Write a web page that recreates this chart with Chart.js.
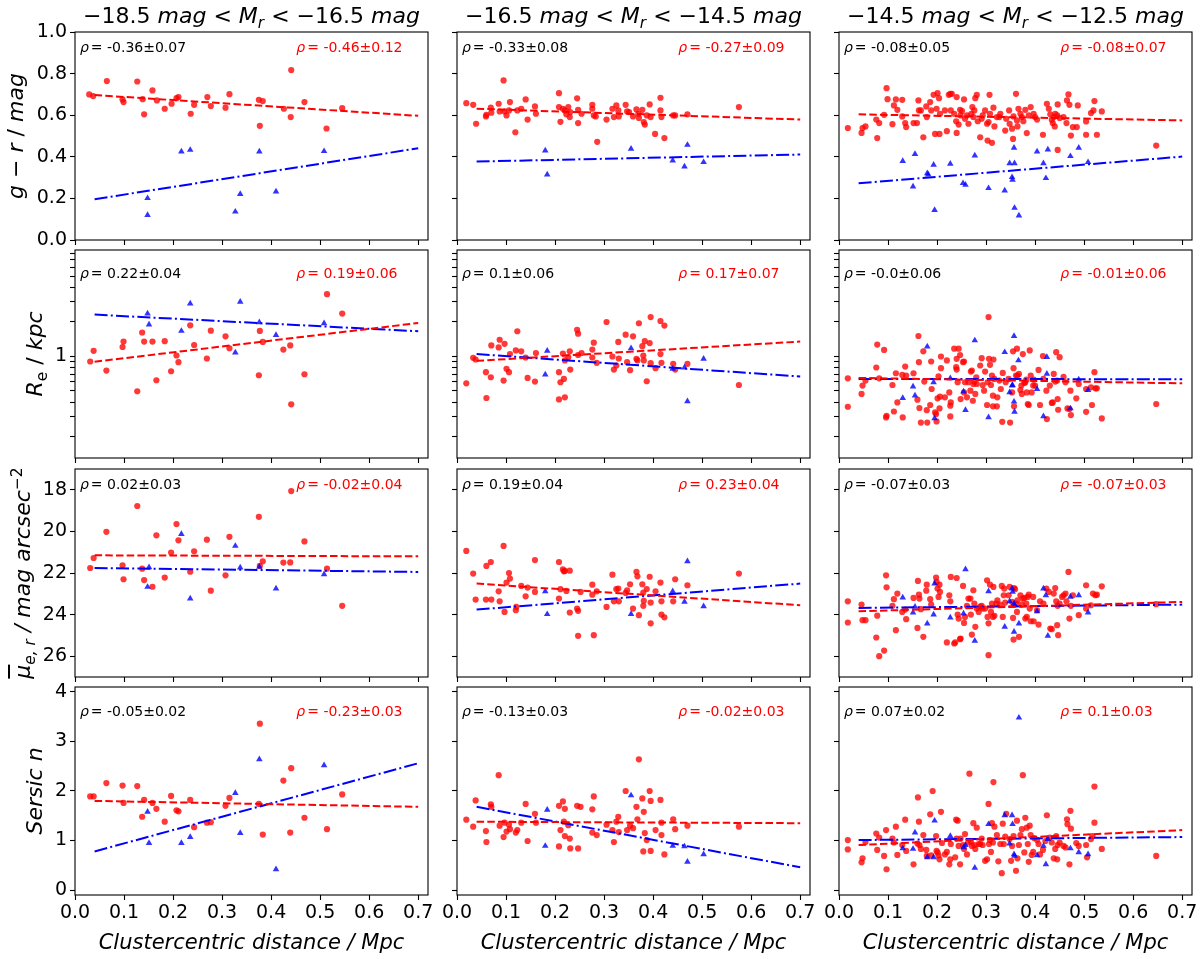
<!DOCTYPE html>
<html>
<head>
<meta charset="utf-8">
<script src="https://cdn.jsdelivr.net/npm/chart.js@4.4.1/dist/chart.umd.min.js"></script>
<style>
  body { margin: 0; background: #fff; }
  #fig { position: relative; width: 1200px; height: 959px; overflow: hidden; background: #fff;
         font-family: "DejaVu Sans", sans-serif; color: #000; }
  .panel { position: absolute; }
  .title { position: absolute; top: 3px; width: 393px; text-align: center; font-size: 22px; line-height: 26px; white-space: nowrap; }
  .xlabel { position: absolute; top: 930px; width: 393px; text-align: center; font-size: 21px; line-height: 25px; font-style: italic; white-space: nowrap; }
  .ylabel { position: absolute; width: 300px; height: 26px; text-align: center; font-size: 22px; line-height: 26px;
            white-space: nowrap; transform: rotate(-90deg); }
  sub { font-size: 0.7em; vertical-align: -0.3em; line-height: 0; }
  sup { font-size: 0.7em; vertical-align: 0.55em; line-height: 0; }
  .ovl { text-decoration: overline; }
</style>
</head>
<body>
<div id="fig"></div>
<script>
// tick values and categories
const magBins = ['−18.5', '−16.5', '−14.5', '−12.5'];
const distTicks = [0, 0.1, 0.2, 0.3, 0.4, 0.5, 0.6, 0.7];
const grTicks = [0, 0.2, 0.4, 0.6, 0.8, 1.0];
const reTicks = [0.2, 0.3, 0.4, 0.5, 0.6, 0.7, 0.8, 0.9, 1, 2, 3, 4, 5, 6, 7, 8];
const muTicks = [18, 20, 22, 24, 26];
const nTicks = [0, 1, 2, 3, 4];
const fitX = [0.04, 0.7];

// correlation labels, row by row (all galaxies / red ones)
const rhoAll = ['-0.36±0.07', '-0.33±0.08', '-0.08±0.05',
                '0.22±0.04', '0.1±0.06', '-0.0±0.06',
                '0.02±0.03', '0.19±0.04', '-0.07±0.03',
                '-0.05±0.02', '-0.13±0.03', '0.07±0.02'];
const rhoRed = ['-0.46±0.12', '-0.27±0.09', '-0.08±0.07',
                '0.19±0.06', '0.17±0.07', '-0.01±0.06',
                '-0.02±0.04', '0.23±0.04', '-0.07±0.03',
                '-0.23±0.03', '-0.02±0.03', '0.1±0.03'];

// ---- g - r colour ----
const grBrightRed = [[0.029,0.700],[0.037,0.692],[0.065,0.764],[0.097,0.676],[0.099,0.663],[0.127,0.762],[0.138,0.677],[0.141,0.604],[0.158,0.719],[0.167,0.671],[0.183,0.631],[0.197,0.655],[0.207,0.682],[0.211,0.687],[0.236,0.607],[0.243,0.650],[0.270,0.687],[0.277,0.644],[0.307,0.636],[0.315,0.701],[0.375,0.674],[0.377,0.549],[0.383,0.668],[0.426,0.631],[0.440,0.591],[0.441,0.817],[0.468,0.663],[0.513,0.536],[0.545,0.634]];
const grBrightBlue = [[0.148,0.201],[0.148,0.120],[0.217,0.425],[0.235,0.433],[0.327,0.136],[0.337,0.221],[0.376,0.425],[0.410,0.233],[0.508,0.427]];
const grBrightFitRed = [0.697, 0.597];
const grBrightFitBlue = [0.196, 0.441];

const grMidRed = [[0.019,0.658],[0.033,0.650],[0.039,0.559],[0.059,0.594],[0.060,0.602],[0.069,0.636],[0.070,0.612],[0.085,0.655],[0.087,0.618],[0.095,0.767],[0.097,0.618],[0.101,0.599],[0.108,0.663],[0.106,0.623],[0.119,0.518],[0.123,0.623],[0.131,0.631],[0.140,0.676],[0.144,0.579],[0.159,0.642],[0.161,0.607],[0.208,0.706],[0.208,0.639],[0.211,0.568],[0.216,0.631],[0.220,0.623],[0.223,0.604],[0.227,0.639],[0.230,0.591],[0.231,0.615],[0.245,0.681],[0.247,0.626],[0.247,0.562],[0.254,0.607],[0.276,0.650],[0.276,0.631],[0.279,0.599],[0.283,0.594],[0.286,0.472],[0.305,0.579],[0.317,0.631],[0.320,0.591],[0.325,0.647],[0.329,0.623],[0.330,0.594],[0.344,0.650],[0.347,0.618],[0.351,0.615],[0.359,0.594],[0.366,0.628],[0.370,0.607],[0.371,0.587],[0.378,0.626],[0.381,0.567],[0.383,0.555],[0.387,0.599],[0.393,0.652],[0.395,0.591],[0.404,0.510],[0.415,0.684],[0.415,0.623],[0.417,0.591],[0.423,0.490],[0.441,0.599],[0.445,0.599],[0.470,0.604],[0.575,0.639]];
const grMidBlue = [[0.180,0.430],[0.184,0.315],[0.355,0.438],[0.440,0.382],[0.464,0.353],[0.470,0.457],[0.503,0.374]];
const grMidFitRed = [0.631, 0.579];
const grMidFitBlue = [0.377, 0.411];

const grFaintRed = [[0.018,0.538],[0.046,0.515],[0.048,0.538],[0.054,0.546],[0.076,0.579],[0.078,0.490],[0.082,0.562],[0.092,0.602],[0.097,0.730],[0.099,0.677],[0.109,0.557],[0.112,0.647],[0.116,0.676],[0.119,0.626],[0.129,0.674],[0.129,0.594],[0.135,0.562],[0.137,0.543],[0.152,0.562],[0.159,0.562],[0.162,0.671],[0.163,0.623],[0.167,0.623],[0.172,0.494],[0.178,0.642],[0.179,0.591],[0.186,0.663],[0.188,0.623],[0.193,0.698],[0.196,0.510],[0.199,0.631],[0.201,0.706],[0.204,0.682],[0.205,0.510],[0.206,0.607],[0.216,0.623],[0.220,0.523],[0.224,0.698],[0.227,0.703],[0.228,0.623],[0.230,0.703],[0.235,0.607],[0.239,0.571],[0.240,0.687],[0.240,0.515],[0.244,0.555],[0.247,0.626],[0.248,0.599],[0.251,0.620],[0.255,0.676],[0.257,0.583],[0.261,0.599],[0.264,0.559],[0.270,0.607],[0.272,0.639],[0.274,0.591],[0.276,0.623],[0.278,0.682],[0.281,0.698],[0.283,0.571],[0.288,0.494],[0.291,0.583],[0.293,0.599],[0.298,0.623],[0.302,0.559],[0.303,0.478],[0.305,0.567],[0.307,0.698],[0.308,0.607],[0.312,0.467],[0.315,0.636],[0.317,0.546],[0.322,0.591],[0.327,0.591],[0.329,0.607],[0.339,0.526],[0.341,0.583],[0.347,0.623],[0.348,0.559],[0.353,0.535],[0.355,0.486],[0.356,0.594],[0.361,0.703],[0.363,0.575],[0.364,0.546],[0.366,0.631],[0.370,0.607],[0.373,0.591],[0.376,0.571],[0.380,0.626],[0.383,0.514],[0.387,0.599],[0.391,0.639],[0.397,0.607],[0.400,0.591],[0.404,0.579],[0.416,0.506],[0.424,0.655],[0.428,0.631],[0.431,0.604],[0.434,0.578],[0.436,0.562],[0.438,0.591],[0.440,0.546],[0.441,0.607],[0.445,0.599],[0.446,0.652],[0.446,0.433],[0.450,0.587],[0.458,0.591],[0.464,0.562],[0.465,0.671],[0.468,0.700],[0.470,0.650],[0.473,0.502],[0.477,0.543],[0.485,0.543],[0.487,0.647],[0.504,0.506],[0.504,0.570],[0.514,0.610],[0.519,0.623],[0.521,0.668],[0.526,0.506],[0.536,0.618],[0.647,0.454]];
const grFaintBlue = [[0.130,0.379],[0.151,0.257],[0.155,0.413],[0.180,0.321],[0.182,0.315],[0.193,0.361],[0.195,0.144],[0.227,0.366],[0.253,0.273],[0.258,0.265],[0.277,0.406],[0.305,0.249],[0.338,0.238],[0.348,0.369],[0.353,0.302],[0.354,0.289],[0.357,0.443],[0.358,0.369],[0.358,0.154],[0.367,0.117],[0.404,0.425],[0.417,0.369],[0.422,0.297],[0.426,0.435],[0.472,0.403],[0.489,0.443],[0.508,0.374]];
const grFaintFitRed = [0.604, 0.575];
const grFaintFitBlue = [0.273, 0.401];

// ---- effective radius (kpc) ----
const reBrightRed = [[0.031,0.904],[0.038,1.12],[0.064,0.754],[0.097,1.21],[0.099,1.35],[0.127,0.497],[0.137,1.62],[0.141,1.35],[0.158,1.35],[0.166,0.620],[0.183,1.36],[0.196,0.743],[0.207,1.02],[0.211,0.892],[0.235,1.87],[0.243,1.26],[0.269,0.960],[0.277,1.68],[0.307,1.50],[0.315,1.18],[0.375,0.686],[0.377,1.67],[0.383,1.34],[0.425,1.15],[0.439,1.25],[0.441,0.382],[0.468,0.700],[0.514,3.50],[0.545,2.37]];
const reBrightBlue = [[0.148,2.37],[0.151,1.90],[0.217,1.67],[0.235,2.90],[0.327,1.08],[0.337,3.00],[0.376,1.99],[0.410,1.54],[0.508,1.95]];
const reBrightFitRed = [0.90, 1.96];
const reBrightFitBlue = [2.32, 1.66];

const reMidRed = [[0.019,0.583],[0.033,0.973],[0.038,0.941],[0.059,0.729],[0.060,0.434],[0.069,0.659],[0.070,1.25],[0.085,1.20],[0.087,1.40],[0.095,0.616],[0.097,1.29],[0.101,0.780],[0.106,0.729],[0.108,1.05],[0.120,1.13],[0.123,1.66],[0.131,1.11],[0.140,0.980],[0.144,0.650],[0.159,0.604],[0.161,1.07],[0.208,0.729],[0.208,0.422],[0.211,0.596],[0.216,1.06],[0.218,0.637],[0.220,0.440],[0.220,0.923],[0.227,0.987],[0.230,1.11],[0.231,0.769],[0.245,1.71],[0.247,1.58],[0.247,1.03],[0.254,1.07],[0.276,1.15],[0.276,0.980],[0.279,1.32],[0.285,0.880],[0.305,2.00],[0.317,1.00],[0.320,0.769],[0.325,0.834],[0.329,1.34],[0.330,0.960],[0.344,1.55],[0.347,0.892],[0.353,0.759],[0.359,1.50],[0.366,0.954],[0.368,0.923],[0.371,1.95],[0.378,1.23],[0.380,1.02],[0.381,0.923],[0.383,1.36],[0.387,0.608],[0.393,1.31],[0.395,2.21],[0.395,0.874],[0.405,0.790],[0.415,2.04],[0.415,1.05],[0.417,0.880],[0.423,1.86],[0.441,0.862],[0.445,0.769],[0.470,0.862],[0.575,0.564]];
const reMidBlue = [[0.180,0.695],[0.184,1.12],[0.355,1.18],[0.440,0.780],[0.464,0.801],[0.470,0.406],[0.503,0.954]];
const reMidFitRed = [0.916, 1.35];
const reMidFitBlue = [1.05, 0.668];

const reFaintRed = [[0.018,0.645],[0.018,0.364],[0.046,0.471],[0.048,0.557],[0.054,0.616],[0.076,0.801],[0.078,1.27],[0.082,0.645],[0.092,1.14],[0.096,0.294],[0.097,0.304],[0.109,0.564],[0.112,0.331],[0.116,0.714],[0.119,0.397],[0.129,0.690],[0.130,0.294],[0.135,0.817],[0.137,0.681],[0.152,0.714],[0.160,0.420],[0.162,1.51],[0.163,0.892],[0.164,0.355],[0.167,0.265],[0.172,1.11],[0.174,0.604],[0.179,0.340],[0.180,0.265],[0.186,0.377],[0.188,0.904],[0.189,0.520],[0.196,0.325],[0.198,0.314],[0.199,0.271],[0.201,0.431],[0.203,0.672],[0.205,0.352],[0.206,0.446],[0.208,1.00],[0.208,0.790],[0.216,0.440],[0.220,0.923],[0.225,0.486],[0.227,0.372],[0.227,0.300],[0.228,0.397],[0.235,1.17],[0.239,0.806],[0.240,0.769],[0.240,0.954],[0.242,0.596],[0.244,1.17],[0.247,1.03],[0.248,0.425],[0.253,0.892],[0.255,0.904],[0.255,0.486],[0.257,0.596],[0.261,0.440],[0.264,0.596],[0.268,0.503],[0.269,0.738],[0.271,0.754],[0.273,0.411],[0.274,0.575],[0.276,0.604],[0.278,0.471],[0.280,0.659],[0.281,0.575],[0.288,0.834],[0.291,0.967],[0.293,0.564],[0.296,0.503],[0.298,0.738],[0.302,0.377],[0.303,0.596],[0.305,2.21],[0.306,0.954],[0.308,0.845],[0.310,0.564],[0.312,0.681],[0.314,0.455],[0.314,0.367],[0.315,0.941],[0.317,0.637],[0.322,0.367],[0.323,0.440],[0.327,0.616],[0.330,0.520],[0.333,0.269],[0.334,0.719],[0.340,0.596],[0.346,0.637],[0.349,0.265],[0.353,0.486],[0.355,1.11],[0.356,0.790],[0.357,0.367],[0.361,0.681],[0.363,1.17],[0.364,0.681],[0.367,0.705],[0.370,0.510],[0.372,0.557],[0.373,0.471],[0.375,1.05],[0.378,0.587],[0.380,0.596],[0.382,0.628],[0.383,0.486],[0.385,0.385],[0.387,0.377],[0.389,1.13],[0.391,0.681],[0.393,0.486],[0.396,0.557],[0.397,0.628],[0.400,0.557],[0.407,0.764],[0.410,0.377],[0.416,1.01],[0.417,0.637],[0.423,0.503],[0.424,0.284],[0.430,0.557],[0.434,0.393],[0.436,0.397],[0.438,0.705],[0.441,0.604],[0.443,1.09],[0.445,0.616],[0.446,0.425],[0.447,0.343],[0.450,0.987],[0.458,0.663],[0.462,0.596],[0.466,0.352],[0.470,0.348],[0.472,0.503],[0.473,0.308],[0.484,0.431],[0.489,0.575],[0.504,0.520],[0.504,0.329],[0.514,0.538],[0.516,0.377],[0.521,0.729],[0.523,0.527],[0.526,0.527],[0.536,0.288],[0.647,0.385]];
const reFaintBlue = [[0.130,0.434],[0.151,0.546],[0.155,0.455],[0.180,1.22],[0.193,0.596],[0.195,0.288],[0.227,0.645],[0.254,0.493],[0.258,0.340],[0.277,1.38],[0.305,0.294],[0.338,1.09],[0.348,0.486],[0.353,0.557],[0.354,0.564],[0.357,1.51],[0.357,0.403],[0.358,0.329],[0.366,0.923],[0.404,0.520],[0.417,0.300],[0.424,0.987],[0.424,0.705],[0.472,0.352],[0.489,0.628],[0.508,0.510]];
const reFaintFitRed = [0.650, 0.583];
const reFaintFitBlue = [0.637, 0.633];

// ---- mean surface brightness ----
const muBrightRed = [[0.031,21.76],[0.038,21.28],[0.064,20.02],[0.097,21.63],[0.099,22.30],[0.127,18.78],[0.137,21.79],[0.141,22.34],[0.158,22.66],[0.166,20.19],[0.183,22.22],[0.196,21.02],[0.207,19.65],[0.211,20.43],[0.235,21.94],[0.243,20.96],[0.269,20.40],[0.277,22.85],[0.307,22.11],[0.315,20.26],[0.375,19.30],[0.377,21.66],[0.383,21.44],[0.425,21.50],[0.439,21.49],[0.441,18.06],[0.468,20.48],[0.514,21.79],[0.545,23.58]];
const muBrightBlue = [[0.148,22.67],[0.151,21.73],[0.217,20.13],[0.235,23.23],[0.327,20.70],[0.337,21.74],[0.376,21.70],[0.410,22.75],[0.508,22.06]];
const muBrightFitRed = [21.15, 21.20];
const muBrightFitBlue = [21.76, 21.95];

const muMidRed = [[0.019,20.94],[0.033,22.03],[0.038,23.28],[0.059,23.28],[0.060,21.66],[0.069,21.47],[0.070,23.28],[0.085,22.88],[0.087,23.36],[0.095,20.70],[0.097,23.87],[0.101,22.46],[0.106,22.00],[0.108,22.27],[0.120,23.79],[0.121,23.63],[0.131,22.62],[0.140,23.12],[0.144,22.70],[0.159,21.38],[0.159,22.91],[0.208,21.47],[0.208,23.23],[0.211,22.78],[0.216,21.82],[0.218,21.92],[0.220,21.90],[0.223,22.86],[0.230,21.89],[0.230,23.90],[0.245,23.71],[0.247,23.82],[0.247,25.02],[0.252,22.91],[0.276,22.56],[0.276,23.04],[0.279,24.99],[0.285,22.88],[0.305,23.63],[0.317,22.08],[0.320,23.36],[0.325,22.78],[0.329,22.75],[0.330,23.36],[0.344,22.96],[0.347,22.83],[0.353,22.54],[0.359,23.71],[0.366,21.95],[0.368,22.16],[0.371,24.03],[0.378,22.54],[0.380,22.94],[0.381,23.34],[0.380,23.58],[0.387,22.77],[0.393,22.18],[0.395,23.42],[0.395,24.42],[0.405,22.88],[0.415,22.46],[0.417,23.36],[0.417,24.00],[0.423,24.13],[0.441,23.36],[0.445,22.30],[0.470,22.59],[0.575,22.03]];
const muMidBlue = [[0.180,22.88],[0.184,23.98],[0.355,23.97],[0.440,22.88],[0.464,23.39],[0.470,21.44],[0.503,23.60]];
const muMidFitRed = [22.51, 23.55];
const muMidFitBlue = [23.76, 22.51];

const muFaintRed = [[0.018,23.36],[0.018,24.38],[0.046,23.52],[0.048,24.27],[0.054,24.27],[0.076,25.10],[0.078,24.05],[0.082,26.00],[0.092,25.73],[0.096,22.11],[0.097,22.69],[0.109,23.58],[0.112,23.26],[0.116,24.75],[0.119,22.99],[0.129,23.87],[0.135,23.76],[0.137,24.22],[0.152,23.20],[0.160,24.64],[0.161,22.38],[0.163,23.04],[0.164,23.23],[0.167,23.74],[0.172,25.07],[0.178,22.85],[0.179,22.56],[0.186,23.26],[0.188,23.52],[0.198,22.22],[0.199,22.43],[0.201,22.75],[0.203,23.15],[0.205,22.56],[0.206,22.91],[0.220,25.34],[0.225,23.07],[0.227,23.36],[0.228,22.19],[0.235,25.39],[0.237,25.34],[0.240,22.24],[0.242,24.00],[0.244,24.19],[0.247,25.18],[0.248,25.15],[0.253,22.62],[0.255,24.40],[0.257,24.11],[0.261,23.58],[0.264,23.23],[0.268,23.23],[0.269,24.00],[0.271,24.96],[0.274,22.83],[0.276,23.47],[0.278,24.59],[0.281,23.71],[0.285,23.87],[0.288,23.62],[0.291,23.58],[0.293,23.71],[0.298,23.71],[0.302,22.35],[0.303,24.11],[0.305,25.95],[0.305,24.42],[0.308,22.56],[0.310,23.87],[0.312,23.47],[0.314,24.11],[0.315,22.67],[0.317,24.06],[0.321,23.47],[0.323,23.31],[0.329,23.52],[0.332,22.62],[0.334,24.11],[0.336,23.07],[0.337,22.75],[0.339,23.42],[0.346,23.07],[0.348,22.66],[0.353,23.39],[0.355,24.16],[0.356,25.20],[0.357,22.72],[0.359,22.78],[0.361,23.47],[0.363,23.87],[0.364,23.31],[0.367,25.07],[0.370,23.07],[0.373,23.52],[0.375,23.23],[0.378,23.20],[0.380,24.19],[0.382,23.47],[0.383,24.11],[0.385,23.15],[0.387,23.04],[0.389,23.71],[0.391,24.32],[0.396,23.15],[0.397,24.32],[0.404,23.79],[0.407,24.48],[0.410,23.36],[0.417,23.47],[0.423,22.75],[0.428,22.91],[0.431,24.67],[0.434,24.70],[0.438,22.99],[0.441,22.72],[0.443,23.36],[0.445,24.51],[0.446,23.58],[0.447,24.99],[0.450,23.47],[0.455,23.15],[0.458,23.07],[0.462,22.99],[0.464,23.36],[0.468,21.95],[0.470,24.19],[0.473,23.58],[0.477,23.07],[0.489,24.03],[0.504,22.59],[0.504,23.71],[0.514,23.55],[0.518,22.99],[0.523,23.07],[0.526,23.04],[0.536,22.64],[0.647,23.50]];
const muFaintBlue = [[0.130,23.18],[0.151,23.90],[0.155,23.63],[0.180,24.43],[0.193,24.00],[0.195,22.51],[0.227,24.14],[0.254,23.95],[0.258,21.82],[0.277,25.26],[0.305,22.88],[0.338,24.59],[0.348,23.36],[0.353,22.75],[0.354,22.91],[0.357,24.83],[0.357,23.47],[0.358,23.55],[0.367,24.43],[0.404,23.84],[0.417,22.75],[0.422,23.07],[0.426,25.02],[0.472,23.15],[0.489,23.07],[0.508,23.90]];
const muFaintFitRed = [23.84, 23.39];
const muFaintFitBlue = [23.68, 23.52];

// ---- Sersic index ----
const nBrightRed = [[0.031,1.89],[0.038,1.89],[0.064,2.16],[0.097,2.11],[0.099,1.76],[0.127,2.10],[0.137,1.48],[0.141,1.82],[0.158,1.76],[0.166,1.64],[0.183,1.38],[0.196,1.90],[0.207,1.61],[0.211,1.59],[0.235,1.82],[0.243,1.27],[0.269,1.36],[0.277,1.37],[0.307,1.70],[0.315,1.86],[0.375,1.74],[0.377,3.36],[0.383,1.12],[0.425,2.21],[0.439,1.16],[0.441,2.46],[0.468,1.46],[0.514,1.23],[0.545,1.93]];
const nBrightBlue = [[0.148,1.58],[0.151,0.95],[0.217,0.95],[0.235,1.07],[0.327,1.96],[0.337,1.15],[0.376,2.64],[0.410,0.42],[0.508,2.52]];
const nBrightFitRed = [1.80, 1.68];
const nBrightFitBlue = [0.78, 2.56];

const nMidRed = [[0.019,1.42],[0.033,1.28],[0.038,1.81],[0.059,1.19],[0.060,0.97],[0.069,1.73],[0.070,1.68],[0.085,2.32],[0.087,1.30],[0.095,1.07],[0.097,1.36],[0.101,1.18],[0.106,1.32],[0.108,1.23],[0.120,1.16],[0.123,1.21],[0.131,1.36],[0.140,1.74],[0.144,0.99],[0.159,1.54],[0.161,1.36],[0.208,1.70],[0.208,0.88],[0.211,1.21],[0.216,1.79],[0.218,1.38],[0.220,1.64],[0.220,1.09],[0.227,1.31],[0.230,1.04],[0.231,0.84],[0.245,1.70],[0.247,0.84],[0.252,1.68],[0.276,1.63],[0.276,1.16],[0.279,1.89],[0.285,1.11],[0.305,1.32],[0.317,1.21],[0.320,0.97],[0.325,1.38],[0.329,1.48],[0.330,1.17],[0.344,2.00],[0.347,1.21],[0.353,1.30],[0.359,1.25],[0.366,1.68],[0.368,1.43],[0.371,2.64],[0.378,1.85],[0.380,0.78],[0.381,1.58],[0.383,1.15],[0.387,1.01],[0.393,2.00],[0.395,1.80],[0.395,0.79],[0.405,1.21],[0.415,1.82],[0.417,1.36],[0.417,1.11],[0.423,0.72],[0.441,1.43],[0.445,1.23],[0.470,1.30],[0.575,1.28]];
const nMidBlue = [[0.180,0.89],[0.184,1.62],[0.355,1.91],[0.440,0.89],[0.464,0.88],[0.470,0.57],[0.503,0.72]];
const nMidFitRed = [1.38, 1.35];
const nMidFitBlue = [1.68, 0.46];

const nFaintRed = [[0.018,1.01],[0.018,0.82],[0.046,0.56],[0.048,0.64],[0.054,0.97],[0.076,1.14],[0.078,0.81],[0.082,1.06],[0.092,0.69],[0.096,1.21],[0.097,0.42],[0.109,1.04],[0.112,0.96],[0.116,1.28],[0.119,0.71],[0.129,0.91],[0.135,1.42],[0.137,0.79],[0.152,0.52],[0.160,0.94],[0.161,1.87],[0.163,1.38],[0.164,0.91],[0.167,0.83],[0.172,1.11],[0.178,0.81],[0.179,0.69],[0.186,1.53],[0.188,0.70],[0.191,2.00],[0.198,1.09],[0.199,0.79],[0.201,0.76],[0.203,0.70],[0.205,0.62],[0.208,1.58],[0.210,0.95],[0.216,0.72],[0.220,0.77],[0.225,0.52],[0.227,0.62],[0.228,0.93],[0.237,0.66],[0.239,1.42],[0.240,1.04],[0.242,1.40],[0.244,0.89],[0.247,0.52],[0.248,1.04],[0.253,0.91],[0.255,0.83],[0.257,1.13],[0.261,0.72],[0.264,0.96],[0.266,2.35],[0.269,0.98],[0.271,0.89],[0.274,1.35],[0.276,0.91],[0.278,0.83],[0.281,1.26],[0.285,0.93],[0.288,0.93],[0.291,1.04],[0.293,0.91],[0.298,0.59],[0.302,0.62],[0.305,1.74],[0.306,0.93],[0.308,1.01],[0.310,0.77],[0.312,1.35],[0.314,0.96],[0.315,2.18],[0.317,1.28],[0.322,1.11],[0.325,0.58],[0.329,0.93],[0.332,0.34],[0.334,1.34],[0.336,0.93],[0.339,1.08],[0.341,1.54],[0.348,1.03],[0.351,0.59],[0.353,0.89],[0.356,1.09],[0.361,0.39],[0.363,1.40],[0.364,0.64],[0.367,0.91],[0.370,1.11],[0.373,1.23],[0.375,2.32],[0.378,0.76],[0.380,1.46],[0.383,1.26],[0.385,0.93],[0.387,0.57],[0.389,1.30],[0.391,1.11],[0.393,0.71],[0.396,0.77],[0.398,1.05],[0.404,1.01],[0.407,0.93],[0.410,0.72],[0.416,0.81],[0.421,0.99],[0.424,1.51],[0.430,1.06],[0.434,0.96],[0.438,0.64],[0.441,0.83],[0.443,1.09],[0.445,0.62],[0.446,0.91],[0.450,0.96],[0.458,0.89],[0.462,0.86],[0.465,1.43],[0.466,1.33],[0.470,0.52],[0.472,1.60],[0.473,1.24],[0.484,0.95],[0.489,0.89],[0.504,0.91],[0.506,0.66],[0.514,1.03],[0.517,1.09],[0.521,2.09],[0.521,1.36],[0.536,0.83],[0.647,0.69]];
const nFaintBlue = [[0.130,0.84],[0.151,0.83],[0.155,1.16],[0.180,0.66],[0.193,0.66],[0.195,1.40],[0.227,1.09],[0.254,0.86],[0.258,0.91],[0.277,0.45],[0.305,1.33],[0.338,1.51],[0.348,0.94],[0.353,1.51],[0.354,1.33],[0.357,0.72],[0.358,0.69],[0.367,3.48],[0.404,0.70],[0.417,0.89],[0.422,0.52],[0.426,1.03],[0.472,0.84],[0.489,0.76],[0.508,0.72]];
const nFaintFitRed = [0.91, 1.21];
const nFaintFitBlue = [1.01, 1.07];

// panel table, row by row
const panels = [
  [grBrightRed, grBrightBlue, grBrightFitRed, grBrightFitBlue],
  [grMidRed, grMidBlue, grMidFitRed, grMidFitBlue],
  [grFaintRed, grFaintBlue, grFaintFitRed, grFaintFitBlue],
  [reBrightRed, reBrightBlue, reBrightFitRed, reBrightFitBlue],
  [reMidRed, reMidBlue, reMidFitRed, reMidFitBlue],
  [reFaintRed, reFaintBlue, reFaintFitRed, reFaintFitBlue],
  [muBrightRed, muBrightBlue, muBrightFitRed, muBrightFitBlue],
  [muMidRed, muMidBlue, muMidFitRed, muMidFitBlue],
  [muFaintRed, muFaintBlue, muFaintFitRed, muFaintFitBlue],
  [nBrightRed, nBrightBlue, nBrightFitRed, nBrightFitBlue],
  [nMidRed, nMidBlue, nMidFitRed, nMidFitBlue],
  [nFaintRed, nFaintBlue, nFaintFitRed, nFaintFitBlue]
];

const rowAxes = [
  { type: 'linear', min: 0, max: 1, ticks: grTicks, fmt: v => v.toFixed(1) },
  { type: 'logarithmic', min: 0.13, max: 8.5, ticks: reTicks, fmt: v => (v === 1 ? '1' : '') },
  { type: 'linear', min: 17, max: 27, reverse: true, ticks: muTicks, fmt: v => String(v) },
  { type: 'linear', min: -0.1, max: 4.1, ticks: nTicks, fmt: v => String(v) }
];
const yLabels = [
  '<i>g</i> − <i>r</i> / <i>mag</i>',
  '<i>R</i><sub>e</sub> / <i>kpc</i>',
  '<i><span class="ovl">μ</span><sub>e, r</sub> / mag arcsec</i><sup>−2</sup>',
  '<i>Sersic n</i>'
];

// layout (pixels)
const plotLeft = [75, 457, 839];
const plotTop = [32, 250, 469, 687];
const plotW = 353, plotH = 208;
const padL = 64, padT = 16, padR = 14, padB = 36;
const rhoDy = [16, 24, 16, 25];
const yLabelX = [16, 35, 22.5, 35];

Chart.defaults.font.family = '"DejaVu Sans"';
Chart.defaults.color = '#000';
Chart.defaults.animation = false;

const framePlugin = {
  id: 'frame',
  afterDatasetsDraw(chart) {
    const { ctx, chartArea: a } = chart;
    ctx.save();
    ctx.strokeStyle = '#000';
    ctx.lineWidth = 1.1;
    ctx.strokeRect(a.left, a.top, a.right - a.left, a.bottom - a.top);
    ctx.restore();
  }
};

const rhoPlugin = {
  id: 'rho',
  afterDraw(chart, args, opts) {
    const { ctx, chartArea: a } = chart;
    const w = a.right - a.left;
    const y = a.top + opts.dy;
    const put = (x, txt, color) => {
      ctx.fillStyle = color;
      ctx.font = 'italic 14px "DejaVu Sans"';
      ctx.fillText('ρ', x, y);
      const rw = ctx.measureText('ρ').width;
      ctx.font = '14px "DejaVu Sans"';
      ctx.fillText('= ' + txt, x + rw + 2, y);
    };
    ctx.save();
    ctx.textBaseline = 'middle';
    ctx.textAlign = 'left';
    put(a.left + 0.014 * w, opts.all, '#000');
    put(a.left + 0.627 * w, opts.red, '#f00');
    ctx.restore();
  }
};

const fig = document.getElementById('fig');
const pts = arr => arr.map(([x, y]) => ({ x, y }));

panels.forEach(([red, blue, fitR, fitB], i) => {
  const r = Math.floor(i / 3), c = i % 3;
  const ax = rowAxes[r];
  const div = document.createElement('div');
  div.className = 'panel';
  div.style.left = (plotLeft[c] - padL) + 'px';
  div.style.top = (plotTop[r] - padT) + 'px';
  const cv = document.createElement('canvas');
  cv.width = plotW + padL + padR;
  cv.height = plotH + padT + padB;
  div.appendChild(cv);
  fig.appendChild(div);

  const tickGrid = { display: true, drawOnChartArea: false, drawTicks: true, tickLength: 5, tickColor: '#000', tickWidth: 1.1 };

  new Chart(cv, {
    type: 'scatter',
    data: {
      datasets: [
        { data: fitX.map((x, k) => ({ x, y: fitR[k] })), showLine: true, borderColor: '#ff0000', borderWidth: 2,
          borderDash: [7.5, 3.2], pointRadius: 0 },
        { data: fitX.map((x, k) => ({ x, y: fitB[k] })), showLine: true, borderColor: '#0000ff', borderWidth: 2,
          borderDash: [13, 3.2, 2, 3.2], pointRadius: 0 },
        { data: pts(blue), pointStyle: 'triangle', pointRadius: 3.8, pointBackgroundColor: 'rgba(0,0,255,0.8)',
          pointBorderWidth: 0, pointBorderColor: 'rgba(0,0,0,0)' },
        { data: pts(red), pointStyle: 'circle', pointRadius: 3.1, pointBackgroundColor: 'rgba(255,0,0,0.78)',
          pointBorderWidth: 0, pointBorderColor: 'rgba(0,0,0,0)' }
      ]
    },
    options: {
      responsive: false,
      animation: false,
      events: [],
      layout: { padding: { left: 0, top: padT, right: padR, bottom: 0 } },
      plugins: {
        legend: { display: false },
        tooltip: { enabled: false },
        rho: { all: rhoAll[i], red: rhoRed[i], dy: rhoDy[r] }
      },
      scales: {
        x: {
          type: 'linear', position: 'bottom', min: 0, max: 0.72,
          afterBuildTicks: s => { s.ticks = distTicks.map(v => ({ value: v })); },
          afterFit: s => { s.height = padB; },
          ticks: { display: r === 3, autoSkip: false, maxRotation: 0, padding: 2, font: { size: 19 }, color: '#000',
                   callback: v => v.toFixed(1) },
          grid: tickGrid,
          border: { display: false }
        },
        y: {
          type: ax.type, position: 'left', min: ax.min, max: ax.max, reverse: !!ax.reverse,
          afterBuildTicks: s => { s.ticks = ax.ticks.map(v => ({ value: v })); },
          afterFit: s => { s.width = padL; },
          ticks: { display: c === 0, autoSkip: false, padding: 3, font: { size: 19 }, color: '#000',
                   callback: v => ax.fmt(v) },
          grid: tickGrid,
          border: { display: false }
        }
      }
    },
    plugins: [framePlugin, rhoPlugin]
  });
});

// titles, axis labels
for (let c = 0; c < 3; c++) {
  const t = document.createElement('div');
  t.className = 'title';
  t.style.left = (plotLeft[c] - 20) + 'px';
  t.innerHTML = magBins[c] + ' <i>mag</i> &lt; <i>M<sub>r</sub></i> &lt; ' + magBins[c + 1] + ' <i>mag</i>';
  fig.appendChild(t);
  const xl = document.createElement('div');
  xl.className = 'xlabel';
  xl.style.left = (plotLeft[c] - 20) + 'px';
  xl.textContent = 'Clustercentric distance / Mpc';
  fig.appendChild(xl);
}
for (let r = 0; r < 4; r++) {
  const yl = document.createElement('div');
  yl.className = 'ylabel';
  yl.style.left = (yLabelX[r] - 150) + 'px';
  yl.style.top = (plotTop[r] + plotH / 2 - 13) + 'px';
  yl.innerHTML = yLabels[r];
  fig.appendChild(yl);
}
</script>
</body>
</html>
